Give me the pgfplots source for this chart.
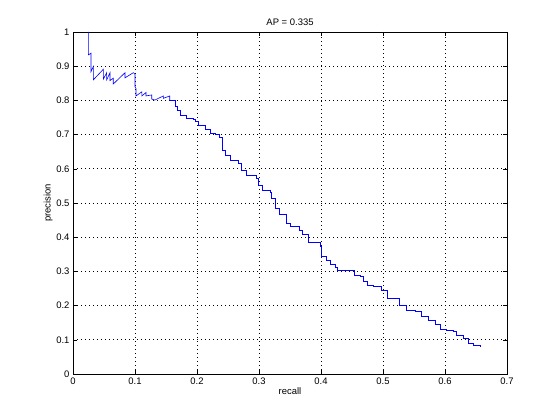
\documentclass[border=0pt]{standalone}
\usepackage{pgfplots}
\pgfplotsset{compat=1.18}
\usepackage{fontspec}
\setmainfont{Liberation Sans}
\begin{document}
\begin{tikzpicture}
\begin{axis}[
  scale only axis,
  width=434bp, height=342bp,
  xmin=0, xmax=0.7, ymin=0, ymax=1,
  xtick={0,0.1,...,0.7}, ytick={0,0.1,...,1},
  xticklabels={0,0.1,0.2,0.3,0.4,0.5,0.6,0.7},
  yticklabels={0,0.1,0.2,0.3,0.4,0.5,0.6,0.7,0.8,0.9,1},
  tick align=inside,
  major tick length=4bp,
  tick style={black, line width=0.5bp},
  axis line style={black, line width=0.5bp},
  grid=major,
  major grid style={black, line width=0.6bp, dash pattern=on 0.8bp off 3.2bp},
  font=\fontsize{9.5}{11}\selectfont,
  ticklabel style={font=\fontsize{9.5}{11}\selectfont},
  title={AP = 0.335},
  title style={yshift=-3bp},
  xlabel={recall}, ylabel={precision},
  xlabel style={yshift=3bp},
  ylabel style={yshift=-3bp},
]
\addplot[blue, line width=0.6bp] coordinates {
(0.0247,1.0) (0.0247,0.933) (0.029,0.938) (0.029,0.884) (0.0328,0.899) (0.0328,0.860)
(0.0489,0.891) (0.0489,0.862) (0.0543,0.881) (0.0543,0.860) (0.0597,0.881) (0.0597,0.858)
(0.065,0.865) (0.065,0.848) (0.0839,0.881) (0.0839,0.866) (0.0973,0.881) (0.1,0.877)
(0.1,0.840) (0.1016,0.835) (0.1016,0.813) (0.111,0.825) (0.111,0.813) (0.1177,0.823)
(0.1177,0.813) (0.127,0.816) (0.127,0.804) (0.132,0.801) (0.1457,0.813) (0.1457,0.806)
(0.156,0.813) (0.156,0.800)
};
\addplot[blue, line width=0.6bp, const plot mark left] coordinates {
(0.156,0.800) (0.1645,0.784) (0.168,0.772) (0.1726,0.757) (0.183,0.748) (0.194,0.745)
(0.197,0.738) (0.202,0.728) (0.213,0.715) (0.221,0.704) (0.229,0.701) (0.236,0.692)
(0.2414,0.684) (0.2414,0.653) (0.245,0.640) (0.253,0.626) (0.261,0.624) (0.2667,0.615)
(0.271,0.596) (0.280,0.582) (0.296,0.572) (0.299,0.553) (0.306,0.538) (0.318,0.530)
(0.3205,0.514) (0.326,0.484) (0.333,0.468) (0.3435,0.442) (0.350,0.431) (0.365,0.421)
(0.3705,0.409) (0.3795,0.394) (0.3795,0.384) (0.3995,0.372) (0.401,0.343) (0.409,0.333)
(0.4156,0.322) (0.4226,0.312) (0.4263,0.304) (0.4538,0.289) (0.463,0.285) (0.468,0.270)
(0.474,0.260) (0.4844,0.255) (0.498,0.246) (0.507,0.221) (0.526,0.202) (0.537,0.187)
(0.5516,0.182) (0.5624,0.170) (0.573,0.158) (0.584,0.146) (0.593,0.131) (0.6027,0.129)
(0.6134,0.124) (0.619,0.112) (0.6296,0.104) (0.6376,0.090) (0.6457,0.083) (0.6565,0.082)
};
\end{axis}
\useasboundingbox (current axis.south west) ++(-73bp,-46bp) rectangle ++(560bp,420bp);
\end{tikzpicture}
\end{document}
